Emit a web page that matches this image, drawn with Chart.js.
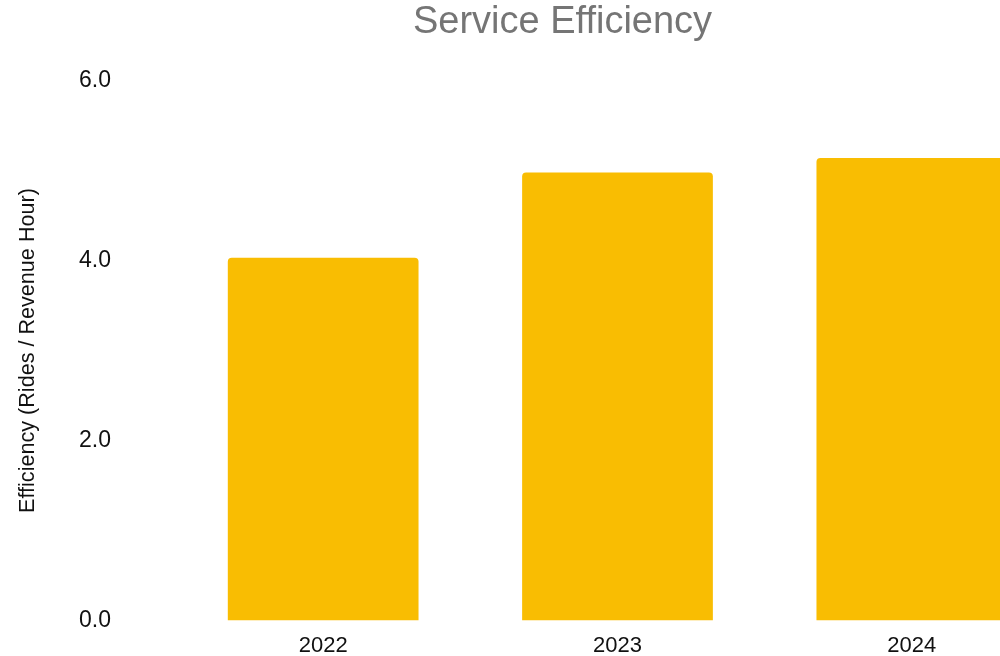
<!DOCTYPE html>
<html>
<head>
<meta charset="utf-8">
<script src="https://cdn.jsdelivr.net/npm/chart.js@4"></script>
<style>
  html, body { margin: 0; padding: 0; background: #fff; overflow: hidden; }
  #wrap { width: 1000px; height: 656px; overflow: hidden; position: relative; }
  #c { display: block; }
</style>
</head>
<body>
<div id="wrap"><canvas id="c" width="1125" height="656" style="width:1125px;height:656px"></canvas></div>
<script>
const categories = ['2022', '2023', '2024'];
const efficiency = [4.03, 4.98, 5.14];
const yTicks = [0, 2, 4, 6];

const FONT = "'Liberation Sans', Arial, Helvetica, sans-serif";

new Chart(document.getElementById('c'), {
  type: 'bar',
  data: {
    labels: categories,
    datasets: [{
      label: 'Efficiency',
      data: efficiency,
      backgroundColor: 'rgb(249,189,2)',
      borderRadius: 4,
      borderSkipped: 'start',
      categoryPercentage: 0.8,
      barPercentage: 0.81
    }]
  },
  options: {
    responsive: false,
    animation: false,
    devicePixelRatio: 1,
    layout: { padding: 0 },
    plugins: {
      legend: { display: false },
      tooltip: { enabled: false },
      title: {
        display: true,
        text: 'Service Efficiency',
        color: '#757575',
        font: { family: FONT, size: 38, weight: 'normal', lineHeight: 1.2 },
        padding: { top: 0, bottom: 35 }
      }
    },
    scales: {
      x: {
        grid: { display: false, drawTicks: false },
        border: { display: false },
        ticks: { color: '#111', font: { family: FONT, size: 22 }, padding: 12 },
        afterFit(scale) { scale.height = 35.5; }
      },
      y: {
        min: 0,
        max: 6,
        afterBuildTicks(scale) { scale.ticks = yTicks.map(v => ({ value: v })); },
        grid: { display: false, drawTicks: false },
        border: { display: false },
        ticks: {
          color: '#111',
          font: { family: FONT, size: 23 },
          padding: 65,
          callback: v => Number(v).toFixed(1)
        },
        title: {
          display: true,
          text: 'Efficiency (Rides / Revenue Hour)',
          color: '#111',
          font: { family: FONT, size: 21.6 },
          padding: { top: 15, bottom: 0 }
        },
        afterFit(scale) { scale.width = 176; scale.paddingTop = 0; scale.paddingBottom = 0; }
      },
      yRight: {
        position: 'right',
        display: true,
        grid: { display: false, drawTicks: false },
        border: { display: false },
        ticks: { display: false },
        afterFit(scale) { scale.width = 66; scale.paddingTop = 0; scale.paddingBottom = 0; }
      }
    }
  }
});
</script>
</body>
</html>
